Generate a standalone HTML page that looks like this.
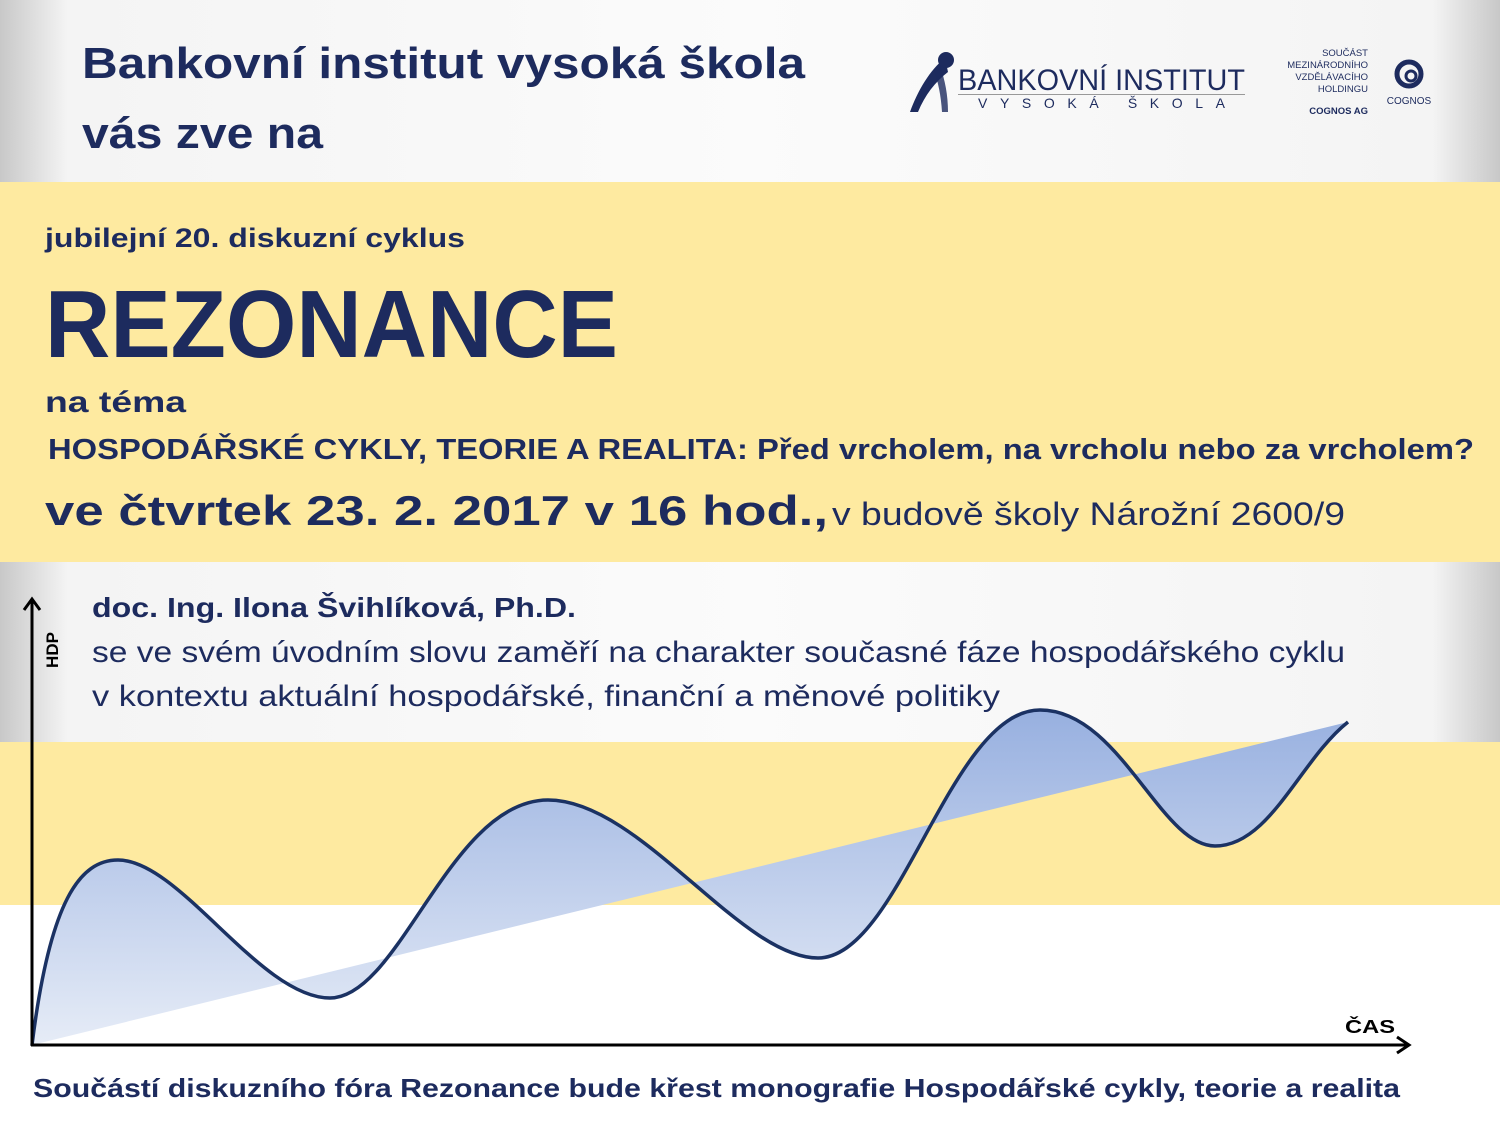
<!DOCTYPE html>
<html><head><meta charset="utf-8"><style>
html,body{margin:0;padding:0;background:#fff}
svg{display:block}
text{font-family:"Liberation Sans",sans-serif}
</style></head><body>
<svg width="1500" height="1125" viewBox="0 0 1500 1125" xmlns="http://www.w3.org/2000/svg">
<defs>
<linearGradient id="gl" x1="0" x2="1" y1="0" y2="0">
<stop offset="0" stop-color="#c8c8c8"/><stop offset="0.045" stop-color="#f4f4f4"/><stop offset="0.5" stop-color="#fbfbfb"/><stop offset="0.955" stop-color="#f4f4f4"/><stop offset="1" stop-color="#c8c8c8"/>
</linearGradient>
<linearGradient id="fb" x1="0" x2="0" y1="700" y2="1045" gradientUnits="userSpaceOnUse">
<stop offset="0" stop-color="#95aedf"/><stop offset="1" stop-color="#e6ecf7"/>
</linearGradient>
</defs>
<rect x="0" y="0" width="1500" height="182" fill="url(#gl)"/>
<rect x="0" y="182" width="1500" height="380" fill="#feeaa0"/>
<rect x="0" y="562" width="1500" height="180" fill="url(#gl)"/>
<rect x="0" y="742" width="1500" height="163" fill="#feeaa0"/>
<rect x="0" y="905" width="1500" height="220" fill="#fff"/>

<g fill="#1d2b5e" font-weight="bold">
<text x="82" y="78" font-size="44" textLength="723" lengthAdjust="spacingAndGlyphs">Bankovní institut vysoká škola</text>
<text x="82" y="148" font-size="44" textLength="241" lengthAdjust="spacingAndGlyphs">vás zve na</text>
<text x="45" y="247" font-size="27" textLength="420" lengthAdjust="spacingAndGlyphs">jubilejní 20. diskuzní cyklus</text>
<text x="45" y="357" font-size="96" textLength="573" lengthAdjust="spacingAndGlyphs">REZONANCE</text>
<text x="45" y="412" font-size="30" textLength="141" lengthAdjust="spacingAndGlyphs">na téma</text>
<text x="48" y="459" font-size="29" textLength="1426" lengthAdjust="spacingAndGlyphs">HOSPODÁŘSKÉ CYKLY, TEORIE A REALITA: Před vrcholem, na vrcholu nebo za vrcholem?</text>
<text x="45" y="525" font-size="42" textLength="783" lengthAdjust="spacingAndGlyphs">ve čtvrtek 23. 2. 2017 v 16 hod.,</text>
<text x="92" y="617" font-size="28" textLength="484" lengthAdjust="spacingAndGlyphs">doc. Ing. Ilona Švihlíková, Ph.D.</text>
<text x="33" y="1097" font-size="26" textLength="1367" lengthAdjust="spacingAndGlyphs">Součástí diskuzního fóra Rezonance bude křest monografie Hospodářské cykly, teorie a realita</text>
</g>
<g fill="#1d2b5e">
<text x="832" y="525" font-size="32" textLength="513" lengthAdjust="spacingAndGlyphs">v budově školy Nárožní 2600/9</text>
<text x="92" y="662" font-size="30" textLength="1253" lengthAdjust="spacingAndGlyphs">se ve svém úvodním slovu zaměří na charakter současné fáze hospodářského cyklu</text>
<text x="92" y="706" font-size="30" textLength="908" lengthAdjust="spacingAndGlyphs">v kontextu aktuální hospodářské, finanční a měnové politiky</text>
</g>

<!-- logos -->
<g fill="#1d2b5e">
<path d="M945,58 C930,70 918,90 910,112 L918,112 C925,95 935,82 948,72 Z"/>
<circle cx="946" cy="60" r="8"/>
<path d="M940,66 C945,80 948,95 948,112 L942,112 C941,95 938,82 934,70 Z" opacity="0.8"/>
<text x="958" y="90" font-size="30" textLength="287" lengthAdjust="spacingAndGlyphs">BANKOVNÍ INSTITUT</text>
<rect x="958" y="94" width="287" height="1" fill="#999"/>
<text x="978" y="108" font-size="14" textLength="247" lengthAdjust="spacing">VYSOKÁ ŠKOLA</text>
<g font-size="9.5" text-anchor="end">
<text x="1368" y="56">SOUČÁST</text>
<text x="1368" y="68">MEZINÁRODNÍHO</text>
<text x="1368" y="80">VZDĚLÁVACÍHO</text>
<text x="1368" y="92">HOLDINGU</text>
<text x="1368" y="114" font-weight="bold">COGNOS AG</text>
</g>
<circle cx="1409" cy="74" r="12" fill="none" stroke="#1d2b5e" stroke-width="5"/>
<circle cx="1411" cy="76" r="5" fill="none" stroke="#1d2b5e" stroke-width="3"/>
<text x="1409" y="104" font-size="10" text-anchor="middle">COGNOS</text>
</g>

<!-- chart -->
<path d="M32,1045 C50,900 80,860 118,860 C180,860 260,998 330,998 C400,998 450,800 548,800 C640,800 740,958 818,958 C900,958 950,710 1040,710 C1120,710 1160,846 1215,846 C1270,846 1300,760 1348,722 L32,1045 Z" fill="url(#fb)"/>
<path d="M32,1045 C50,900 80,860 118,860 C180,860 260,998 330,998 C400,998 450,800 548,800 C640,800 740,958 818,958 C900,958 950,710 1040,710 C1120,710 1160,846 1215,846 C1270,846 1300,760 1348,722" fill="none" stroke="#1b3263" stroke-width="3.5"/>
<g stroke="#000" stroke-width="3" fill="none">
<line x1="32" y1="1046" x2="32" y2="600"/>
<polyline points="24,610 32,599 40,610"/>
<line x1="31" y1="1045" x2="1408" y2="1045"/>
<polyline points="1397,1037 1409,1045 1397,1053"/>
</g>
<text transform="translate(58,650) rotate(-90)" font-size="17" font-weight="bold" text-anchor="middle" fill="#000">HDP</text>
<text x="1345" y="1033" font-size="18" font-weight="bold" fill="#000" textLength="50" lengthAdjust="spacingAndGlyphs">ČAS</text>
</svg>
</body></html>
